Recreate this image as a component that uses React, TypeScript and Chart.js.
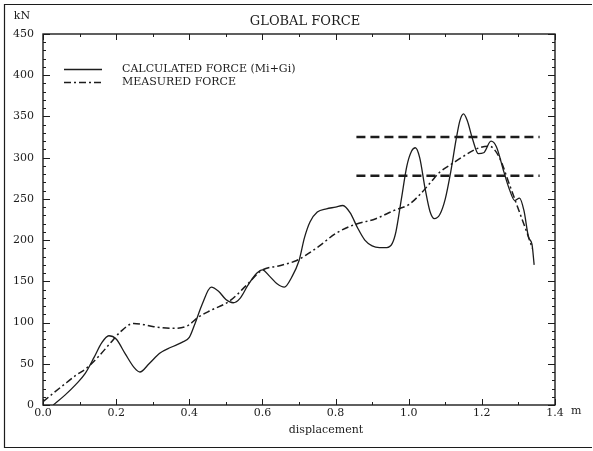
import React, { useEffect, useRef } from 'react';
import { Chart, registerables } from 'chart.js';

Chart.register(...registerables);

// ---- data ----
const calcX = [0.028, 0.06, 0.09, 0.115, 0.14, 0.16, 0.18, 0.2, 0.225, 0.25, 0.265, 0.29, 0.32, 0.35, 0.38, 0.4, 0.415, 0.435, 0.46, 0.48, 0.5, 0.52, 0.54, 0.56, 0.585, 0.6, 0.62, 0.64, 0.66, 0.68, 0.7, 0.715, 0.73, 0.75, 0.775, 0.8, 0.82, 0.84, 0.86, 0.88, 0.9, 0.92, 0.94, 0.955, 0.965, 0.98, 0.995, 1.008, 1.018, 1.03, 1.045, 1.058, 1.07, 1.085, 1.1, 1.115, 1.13, 1.14, 1.15, 1.16, 1.175, 1.19, 1.205, 1.225, 1.24, 1.26, 1.275, 1.29, 1.303, 1.315, 1.328, 1.337, 1.343];
const calcY = [0, 12, 25, 38, 58, 75, 84, 80, 62, 45, 40, 50, 63, 70, 76, 82, 98, 122, 143, 138, 128, 124, 130, 145, 160, 164, 156, 147, 143, 155, 175, 203, 222, 234, 238, 240, 242, 233, 215, 200, 193, 191, 191, 196, 210, 250, 290, 308, 312, 300, 262, 235, 226, 231, 250, 283, 323, 345, 353, 345, 322, 305, 306, 320, 313, 283, 262, 248, 251, 236, 203, 195, 170];

const measX = [0, 0.03, 0.064, 0.09, 0.12, 0.15, 0.184, 0.21, 0.248, 0.27, 0.303, 0.35, 0.395, 0.423, 0.46, 0.51, 0.556, 0.597, 0.647, 0.692, 0.72, 0.756, 0.8, 0.847, 0.91, 0.96, 1.0, 1.03, 1.06, 1.084, 1.12, 1.147, 1.193, 1.22, 1.247, 1.275, 1.302, 1.325, 1.338];
const measY = [4, 15, 27, 36, 45, 58, 75, 88, 99, 98, 95, 93, 96, 106, 115, 126, 145, 163, 169, 175, 182, 193, 208, 218, 226, 236, 243, 255, 270, 282, 293, 301, 312, 314, 301, 268, 235, 207, 190];

const limitX = [0.857, 1.358];
const upperLimitY = [325, 325];
const lowerLimitY = [278, 278];

const xTickValues = [0, 0.2, 0.4, 0.6, 0.8, 1.0, 1.2, 1.4];
const yTickValues = [0, 50, 100, 150, 200, 250, 300, 350, 400, 450];

const seriesLabels = ['CALCULATED FORCE (Mi+Gi)', 'MEASURED FORCE'];
const titleText = 'GLOBAL FORCE';
const yUnit = 'kN';
const xUnit = 'm';
const xName = 'displacement';

const FONT = '"DejaVu Serif", serif';
const INK = '#1c1c1c';

const toPoints = (xs: number[], ys: number[]) => xs.map((x, i) => ({ x, y: ys[i] }));

const decorPlugin = {
  id: 'decor',
  beforeDraw(chart: any) {
    const { ctx, width, height } = chart;
    ctx.save();
    ctx.fillStyle = '#ffffff';
    ctx.fillRect(0, 0, width, height);
    ctx.restore();
  },
  afterDraw(chart: any) {
    const { ctx, chartArea: a, scales } = chart;
    const xs = scales.x;
    const ys = scales.y;
    ctx.save();
    ctx.strokeStyle = INK;
    // outer page frame
    ctx.lineWidth = 1.2;
    ctx.beginPath();
    ctx.moveTo(4.5, 448);
    ctx.lineTo(4.5, 4.5);
    ctx.lineTo(592, 4.5);
    ctx.moveTo(4.5, 447.5);
    ctx.lineTo(592, 447.5);
    ctx.stroke();
    // plot frame
    ctx.lineWidth = 1.4;
    ctx.strokeRect(a.left, a.top, a.right - a.left, a.bottom - a.top);
    // ticks
    ctx.lineWidth = 1;
    ctx.beginPath();
    for (let i = 0; i <= 14; i++) {
      const v = i / 10;
      const px = Math.round(xs.getPixelForValue(v)) + 0.5;
      const len = i % 2 === 0 ? 6 : 3;
      ctx.moveTo(px, a.bottom);
      ctx.lineTo(px, a.bottom - len);
      ctx.moveTo(px, a.top);
      ctx.lineTo(px, a.top + len);
    }
    for (let i = 0; i <= 45; i++) {
      const v = i * 10;
      const py = Math.round(ys.getPixelForValue(v)) + 0.5;
      const len = i % 5 === 0 ? 7 : 3;
      ctx.moveTo(a.left, py);
      ctx.lineTo(a.left + len, py);
      ctx.moveTo(a.right, py);
      ctx.lineTo(a.right - len, py);
    }
    ctx.stroke();

    // texts
    ctx.fillStyle = INK;
    ctx.textBaseline = 'middle';
    ctx.textAlign = 'center';
    ctx.font = `13px ${FONT}`;
    ctx.fillText(titleText, 305, 22);
    ctx.font = `11px ${FONT}`;
    ctx.fillText(yUnit, 22, 16);
    ctx.fillText(xName, 326, 430);
    ctx.textAlign = 'left';
    ctx.fillText(xUnit, 571, 411);

    // legend
    const ds = chart.data.datasets;
    const rows = [0, 1];
    rows.forEach((idx, r) => {
      const y = 69 + r * 13;
      ctx.save();
      ctx.strokeStyle = INK;
      ctx.lineWidth = ds[idx].borderWidth;
      ctx.setLineDash(ds[idx].borderDash || []);
      ctx.beginPath();
      ctx.moveTo(64, y + 0.5);
      ctx.lineTo(102, y + 0.5);
      ctx.stroke();
      ctx.restore();
      ctx.font = `11px ${FONT}`;
      ctx.textAlign = 'left';
      ctx.fillText(ds[idx].label, 122, y);
    });
    ctx.restore();
  },
};

export default function App() {
  const ref = useRef<HTMLCanvasElement | null>(null);
  useEffect(() => {
    document.body.style.margin = '0';
    const canvas = ref.current;
    if (!canvas) return;
    const chart = new Chart(canvas, {
      type: 'line',
      data: {
        datasets: [
          {
            label: seriesLabels[0],
            data: toPoints(calcX, calcY),
            borderColor: INK,
            borderWidth: 1.3,
            pointRadius: 0,
            cubicInterpolationMode: 'monotone',
            fill: false,
          },
          {
            label: seriesLabels[1],
            data: toPoints(measX, measY),
            borderColor: INK,
            borderWidth: 1.5,
            borderDash: [7, 3, 2, 3],
            pointRadius: 0,
            cubicInterpolationMode: 'monotone',
            fill: false,
          },
          {
            label: 'upper',
            data: toPoints(limitX, upperLimitY),
            borderColor: INK,
            borderWidth: 2.6,
            borderDash: [9, 5],
            pointRadius: 0,
            fill: false,
          },
          {
            label: 'lower',
            data: toPoints(limitX, lowerLimitY),
            borderColor: INK,
            borderWidth: 2.6,
            borderDash: [9, 5],
            pointRadius: 0,
            fill: false,
          },
        ],
      },
      options: {
        responsive: false,
        animation: false,
        layout: { padding: { top: 34, right: 38, left: 0, bottom: 0 } },
        plugins: {
          legend: { display: false },
          title: { display: false },
          tooltip: { enabled: false },
        },
        scales: {
          x: {
            type: 'linear',
            min: 0,
            max: 1.4,
            afterFit: (s: any) => { s.height = 46; },
            afterBuildTicks: (s: any) => { s.ticks = xTickValues.map((v) => ({ value: v })); },
            grid: { display: false, drawTicks: false },
            border: { display: false },
            ticks: {
              padding: 2,
              color: INK,
              font: { family: FONT, size: 11 },
              maxRotation: 0,
              autoSkip: false,
              callback: (v: any) => Number(v).toFixed(1),
            },
          },
          y: {
            type: 'linear',
            min: 0,
            max: 450,
            afterFit: (s: any) => { s.width = 43; },
            afterBuildTicks: (s: any) => { s.ticks = yTickValues.map((v) => ({ value: v })); },
            grid: { display: false, drawTicks: false },
            border: { display: false },
            ticks: {
              padding: 9,
              color: INK,
              font: { family: FONT, size: 11 },
              autoSkip: false,
              callback: (v: any) => String(v),
            },
          },
        },
      },
      plugins: [decorPlugin],
    } as any);
    return () => chart.destroy();
  }, []);
  return (
    <div style={{ width: 593, height: 451 }}>
      <canvas ref={ref} width={593} height={451} style={{ display: 'block' }} />
    </div>
  );
}
